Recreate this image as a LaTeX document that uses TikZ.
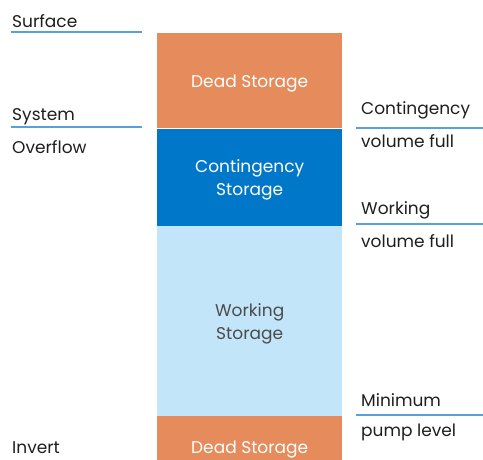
\documentclass[tikz,border=0pt]{standalone}
\usepackage{fontspec}
\setmainfont{Poppins}
\usetikzlibrary{positioning}
\definecolor{deadc}{HTML}{E68C5C}
\definecolor{contc}{HTML}{0077C8}
\definecolor{workc}{HTML}{C2E5FA}
\definecolor{linec}{HTML}{5AA0D8}
\definecolor{textc}{HTML}{1E1E1E}
\begin{document}
\begin{tikzpicture}[x=1pt, y=-1pt, node distance=0pt, font=\fontsize{17}{23}\selectfont]
\tikzstyle{store} = [rectangle, minimum width=185pt, inner sep=0pt]
\tikzstyle{inside} = [align=center, yshift=-3pt]
\tikzstyle{level} = [anchor=west, inner sep=0pt, text=textc]
\tikzstyle{levelline} = [draw=linec, line width=1.6pt]

\useasboundingbox (0,0) rectangle (483,459);
\clip (0,0) rectangle (483,459);

% storage column
\node (D) [store, fill=deadc, minimum height=95pt, anchor=north west,
           label={[inside, text=white]center:Dead Storage}] at (157,33) {};
\node (C) [store, fill=contc, minimum height=97pt, below=of D,
           label={[inside, text=white]center:Contingency\\Storage}] {};
\node (W) [store, fill=workc, minimum height=190pt, below=of C,
           label={[inside, text=textc!80]center:Working\\Storage}] {};
\node (B) [store, fill=deadc, minimum height=60pt, below=of W,
           label={[inside, text=white]center:Dead Storage}] {};

% left levels
\node (surf) [level] at (12,21) {Surface};
\node (sys) [level] at (12,117) {System};
\node (over) [level] at (12,147) {Overflow};
\node (inv) [level] at (12,448) {Invert};
\coordinate (s1) at (11,32);   \coordinate (s2) at (142,32);
\coordinate (o1) at (11,127);  \coordinate (o2) at (142,127);

% right levels
\node (cont) [level] at (361,110) {Contingency};
\node (cvol) [level] at (361,141) {volume full};
\node (work) [level] at (361,210) {Working};
\node (wvol) [level] at (361,241) {volume full};
\node (mini) [level] at (361,400) {Minimum};
\node (pump) [level] at (361,432) {pump level};
\coordinate (c1) at (356,128); \coordinate (c2) at (483,128);
\coordinate (w1) at (356,224); \coordinate (w2) at (483,224);
\coordinate (m1) at (356,415); \coordinate (m2) at (483,415);

\path [levelline] (s1) edge (s2)
             (o1) edge (o2)
             (c1) edge (c2)
             (w1) edge (w2)
             (m1) edge (m2);
\end{tikzpicture}
\end{document}
